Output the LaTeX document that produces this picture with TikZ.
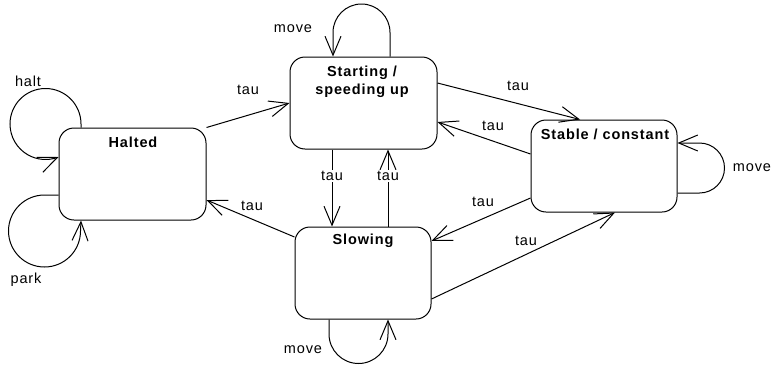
\documentclass[tikz,border=0pt]{standalone}
\usepackage{fontspec}
\setmainfont{Liberation Sans}[LetterSpace=6]
\usetikzlibrary{arrows.meta,calc}
\tikzset{
  statebox/.style={draw, line width=1pt, rounded corners=15pt, inner sep=0pt},
  boxtitle/.style={font=\fontsize{14.5}{18.5}\selectfont\bfseries, align=center, inner sep=0pt},
  lbl/.style={font=\fontsize{14.5}{17}\selectfont, inner sep=1pt},
  trans/.style={line width=1pt, -{Straight Barb[length=19pt,width=16pt,line width=1pt]}},
}
\begin{document}
\begin{tikzpicture}[x=1pt,y=1pt]
  \useasboundingbox (0,0) rectangle (775,-367);
  % states
  \node[statebox, minimum width=147, minimum height=92] (halted)   at (132.5,-174) {};
  \node[statebox, minimum width=147, minimum height=92] (starting) at (363.5,-103) {};
  \node[statebox, minimum width=146, minimum height=92] (stable)   at (604,-166) {};
  \node[statebox, minimum width=136, minimum height=92] (slowing)  at (363,-273) {};
  \node[boxtitle] (thalted) at (133,-142) {Halted};
  \node[boxtitle] (tstarting) at (362,-82) {Starting /\\speeding up};
  \node[boxtitle] (tstable) at (605,-134) {Stable / constant};
  \node[boxtitle] (tslowing) at (363,-241) {Slowing};

  % transitions between states
  \draw[trans] (halted.north east) -- (starting.west);
  \draw[trans] ([yshift=20]starting.east) -- ([xshift=-24]stable.north);
  \draw[trans] ([yshift=12]stable.west) -- ([yshift=-19]starting.east);
  \draw[trans] ([yshift=-32]stable.west) -- ([yshift=32]slowing.east);
  \draw[trans] ([yshift=-26]slowing.east) -- ([xshift=11]stable.south);
  \draw[trans] ([xshift=-31.5]starting.south) -- ([xshift=-31]slowing.north);
  \draw[trans] ([xshift=25]slowing.north) -- ([xshift=24.5]starting.south);
  \draw[trans] ([yshift=36]slowing.west) -- ([yshift=-26]halted.east);

  % self loops
  \draw[trans] ([xshift=-51.5]halted.north) -- ++(0,3.5)
    arc[start angle=0,end angle=290,radius=35.5] -- ([yshift=17]halted.west);
  \draw[trans] ([yshift=-21]halted.west) -- ++(-14,0)
    arc[start angle=90,end angle=360,radius=36] -- ([xshift=-51.5]halted.south);
  \draw[trans] ([xshift=26.5]starting.north) -- ++(0,24)
    arc[start angle=0,end angle=180,radius=28.5] -- ([xshift=-30.5]starting.north);
  \draw[trans] ([yshift=-27]stable.east) -- ++(22,0)
    arc[start angle=-90,end angle=90,radius=25] -- ([yshift=23]stable.east);
  \draw[trans] ([xshift=-34]slowing.south) -- ++(0,-14.5)
    arc[start angle=180,end angle=360,radius=29.5] -- ([xshift=25]slowing.south);

  % transition labels
  \node[lbl] (lhalt) at (28,-81) {halt};
  \node[lbl] (lpark) at (26,-280) {park};
  \node[lbl] (lt1) at (248,-90) {tau};
  \node[lbl] (lmove1) at (293,-29) {move};
  \node[lbl] (lt2) at (518,-86) {tau};
  \node[lbl] (lt3) at (493,-126) {tau};
  \node[lbl] (lmove2) at (752,-168) {move};
  \node[lbl] (lt4) at (483,-202) {tau};
  \node[lbl] (lt5) at (526,-241) {tau};
  \node[lbl, fill=white] (lt6) at (332,-176) {tau};
  \node[lbl, fill=white] (lt7) at (388,-176) {tau};
  \node[lbl] (lt8) at (252,-206) {tau};
  \node[lbl] (lmove3) at (303,-350) {move};
\end{tikzpicture}
\end{document}
